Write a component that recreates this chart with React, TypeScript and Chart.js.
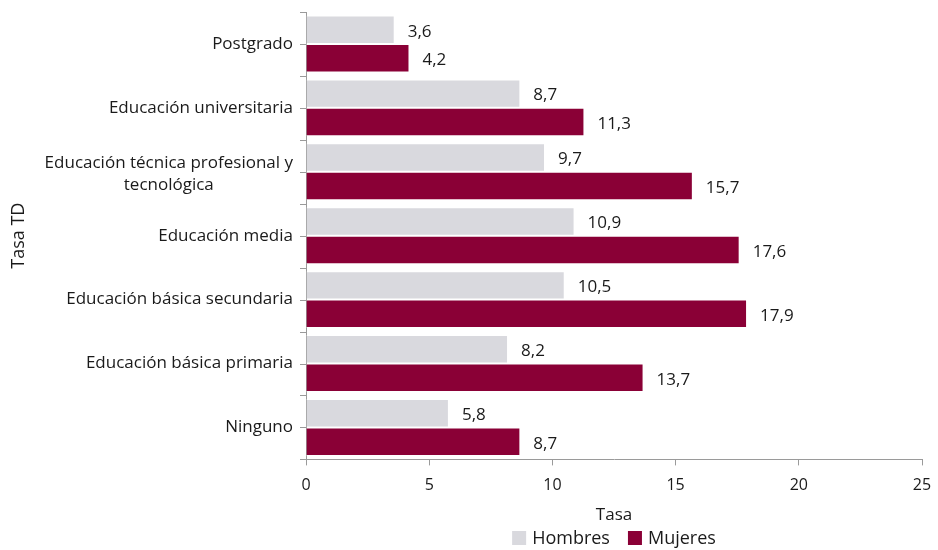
import React, { useEffect, useRef } from "react";
import { Chart, registerables } from "chart.js";

Chart.register(...registerables);

const categories: (string | string[])[] = [
  "Postgrado",
  "Educación universitaria",
  ["Educación técnica profesional y", "tecnológica"],
  "Educación media",
  "Educación básica secundaria",
  "Educación básica primaria",
  "Ninguno",
];
const seriesNames = ["Hombres", "Mujeres"];
const seriesColors = ["#d9d9de", "#8a0036"];
const hombres = [3.6, 8.7, 9.7, 10.9, 10.5, 8.2, 5.8];
const mujeres = [4.2, 11.3, 15.7, 17.6, 17.9, 13.7, 8.7];
const xTicks = [0, 5, 10, 15, 20, 25];

const FONT = "'Open Sans', 'Noto Sans', sans-serif";
const TEXT = "#1a1a1a";
const AXIS = "#9a9a9a";

const valueLabels = {
  id: "valueLabels",
  afterDatasetsDraw(chart: any) {
    const ctx = chart.ctx;
    ctx.save();
    ctx.font = `17px ${FONT}`;
    ctx.fillStyle = TEXT;
    ctx.textAlign = "left";
    ctx.textBaseline = "middle";
    chart.data.datasets.forEach((ds: any, di: number) => {
      const meta = chart.getDatasetMeta(di);
      meta.data.forEach((el: any, i: number) => {
        const v = ds.data[i] as number;
        ctx.fillText(v.toFixed(1).replace(".", ","), el.x + 13, el.y + 2);
      });
    });
    ctx.restore();
  },
};

const catLabels = {
  id: "catLabels",
  afterDraw(chart: any) {
    const ctx = chart.ctx;
    const scale = chart.scales.y;
    ctx.save();
    // tick marks at category centres and boundaries
    ctx.strokeStyle = AXIS;
    ctx.lineWidth = 1;
    const n = categories.length;
    const step = (scale.bottom - scale.top) / n;
    ctx.beginPath();
    for (let k = 0; k <= 2 * n; k++) {
      const y = Math.round(scale.top + (k * step) / 2) + 0.5;
      ctx.moveTo(scale.right - 6, y);
      ctx.lineTo(scale.right, y);
    }
    ctx.stroke();

    ctx.font = `17px ${FONT}`;
    ctx.fillStyle = TEXT;
    ctx.textBaseline = "middle";
    const right = scale.right - 13;
    const lh = 22;
    categories.forEach((c, i) => {
      const lines = Array.isArray(c) ? c : [c];
      const y0 = scale.getPixelForValue(i);
      const widths = lines.map((l) => ctx.measureText(l).width);
      const maxW = Math.max(...widths);
      const center = right - maxW / 2;
      const startY = y0 - ((lines.length - 1) * lh) / 2 + (lines.length > 1 ? 2 : 0);
      lines.forEach((l, k) => {
        ctx.textAlign = "center";
        ctx.fillText(l, center, startY + k * lh);
      });
    });

    // legend
    ctx.font = `18px ${FONT}`;
    const box = 14;
    const gapBoxText = 6;
    const gapItems = 18;
    const widths = seriesNames.map((s) => ctx.measureText(s).width);
    const total =
      widths.reduce((a, b) => a + b, 0) +
      seriesNames.length * (box + gapBoxText) +
      gapItems * (seriesNames.length - 1);
    const cx = (chart.chartArea.left + chart.chartArea.right) / 2;
    let x = cx - total / 2;
    const ly = 538;
    ctx.textAlign = "left";
    seriesNames.forEach((s, i) => {
      ctx.fillStyle = seriesColors[i];
      ctx.fillRect(x, ly - box / 2, box, box);
      x += box + gapBoxText;
      ctx.fillStyle = TEXT;
      ctx.fillText(s, x, ly + 1);
      x += widths[i] + gapItems;
    });
    ctx.restore();
  },
};

export default function App() {
  const ref = useRef<HTMLCanvasElement>(null);
  useEffect(() => {
    document.body.style.margin = "0";
    const chart = new Chart(ref.current!, {
      type: "bar",
      data: {
        labels: categories.map((c) => (Array.isArray(c) ? c.join(" ") : c)),
        datasets: [
          {
            label: seriesNames[0],
            data: hombres,
            backgroundColor: seriesColors[0],
            borderColor: "#ffffff",
            borderWidth: 1,
          },
          {
            label: seriesNames[1],
            data: mujeres,
            backgroundColor: seriesColors[1],
            borderColor: "#ffffff",
            borderWidth: 1,
          },
        ],
      },
      options: {
        indexAxis: "y",
        animation: false,
        responsive: false,
        devicePixelRatio: 1,
        categoryPercentage: 0.89,
        barPercentage: 1,
        layout: { padding: { top: 12, right: 16, left: 8, bottom: 25 } },
        scales: {
          x: {
            min: 0,
            max: 25,
            afterBuildTicks(scale: any) {
              scale.ticks = xTicks.map((v) => ({ value: v }));
            },
            afterFit(scale: any) {
              scale.paddingRight = 0;
              scale.paddingLeft = 0;
            },
            grid: {
              drawOnChartArea: false,
              drawTicks: true,
              tickLength: 6,
              color: AXIS,
            },
            border: { color: AXIS, width: 1 },
            ticks: {
              font: { family: FONT, size: 16 },
              color: TEXT,
              padding: 10,
            },
            title: {
              display: true,
              text: "Tasa",
              font: { family: FONT, size: 17 },
              color: TEXT,
              padding: { top: 0, bottom: 0 },
            },
          },
          y: {
            grid: { display: false },
            border: { color: AXIS, width: 1 },
            ticks: {
              font: { family: FONT, size: 4 },
              color: "rgba(0,0,0,0)",
              padding: 7,
            },
            afterFit(scale: any) {
              scale.width = 298;
            },
            title: {
              display: true,
              text: "Tasa TD",
              font: { family: FONT, size: 18 },
              color: TEXT,
              padding: { top: 0, bottom: 0 },
            },
          },
        },
        plugins: {
          legend: { display: false },
          tooltip: { enabled: false },
        },
      },
      plugins: [valueLabels, catLabels],
    });
    return () => chart.destroy();
  }, []);
  return (
    <div style={{ width: 938, height: 550 }}>
      <canvas ref={ref} width={938} height={550} />
    </div>
  );
}
